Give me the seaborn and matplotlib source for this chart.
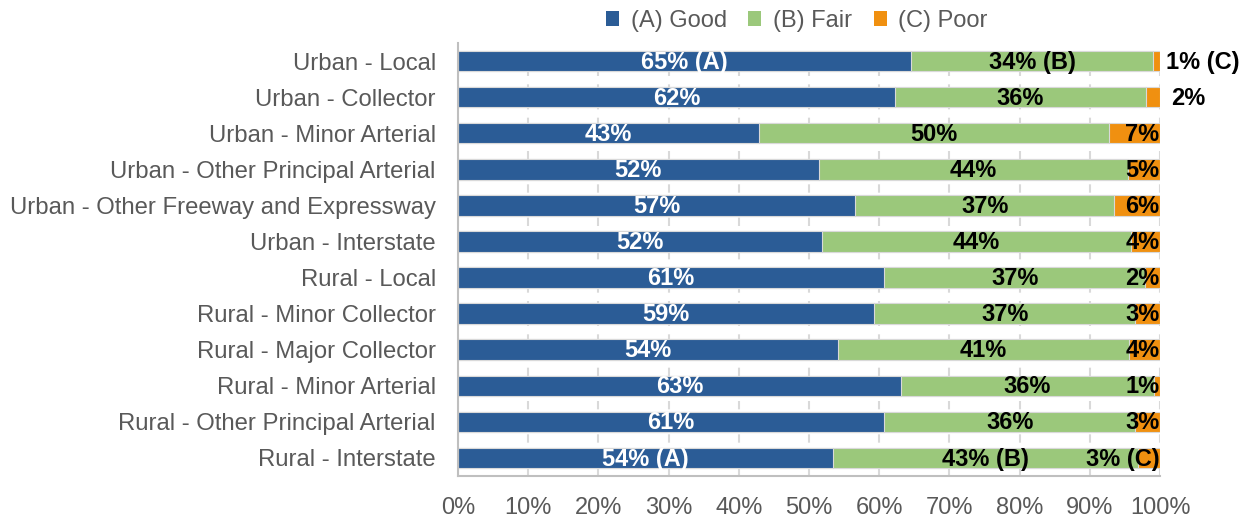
import numpy as np
import pandas as pd
import matplotlib
matplotlib.use("Agg")
import matplotlib.pyplot as plt
from matplotlib.patches import Patch
import seaborn as sns

categories = ["Urban - Local", "Urban - Collector", "Urban - Minor Arterial",
              "Urban - Other Principal Arterial", "Urban - Other Freeway and Expressway",
              "Urban - Interstate", "Rural - Local", "Rural - Minor Collector",
              "Rural - Major Collector", "Rural - Minor Arterial",
              "Rural - Other Principal Arterial", "Rural - Interstate"]
good = [64.6, 62.2, 42.9, 51.4, 56.6, 51.9, 60.7, 59.3, 54.1, 63.1, 60.7, 53.4]
fair = [34.4, 35.8, 49.8, 44.1, 36.9, 43.9, 37.2, 37.2, 41.5, 36.0, 35.8, 43.5]
poor = [1.0, 2.0, 7.3, 4.5, 6.5, 4.2, 2.1, 3.5, 4.4, 0.9, 3.5, 3.1]
good_lbl = [65, 62, 43, 52, 57, 52, 61, 59, 54, 63, 61, 54]
fair_lbl = [34, 36, 50, 44, 37, 44, 37, 37, 41, 36, 36, 43]
poor_lbl = [1, 2, 7, 5, 6, 4, 2, 3, 4, 1, 3, 3]
series_names = ["(A) Good", "(B) Fair", "(C) Poor"]
xticks = [0, 10, 20, 30, 40, 50, 60, 70, 80, 90, 100]

C_GOOD, C_FAIR, C_POOR = "#2B5C96", "#9BC87B", "#F09010"
GRAY = "#595959"

sns.set_style("white")
plt.rcParams["font.family"] = ["Liberation Sans", "DejaVu Sans"]

df = pd.DataFrame({"cat": categories, "good": good, "fair": fair, "poor": poor})
df["c2"] = df["good"] + df["fair"]
df["c3"] = df["c2"] + df["poor"]

fig = plt.figure(figsize=(12.43, 5.19), dpi=100)
ax = fig.add_axes([458 / 1243, 43 / 519, (1160 - 458) / 1243, (476 - 43) / 519])

kw = dict(orient="h", width=0.57, edgecolor="#D9D9D9", linewidth=0.8, ax=ax)
sns.barplot(data=df, x="c3", y="cat", color=C_POOR, saturation=1, **kw)
sns.barplot(data=df, x="c2", y="cat", color=C_FAIR, saturation=1, **kw)
sns.barplot(data=df, x="good", y="cat", color=C_GOOD, saturation=1, **kw)

n = len(categories)
last = n - 1
fs = 17
for i in range(n):
    g, f, p = good[i], fair[i], poor[i]
    sa = " (A)" if i in (0, last) else ""
    sb = " (B)" if i in (0, last) else ""
    sc = " (C)" if i in (0, last) else ""
    ax.text(g / 2, i + 0.03, f"{good_lbl[i]}%{sa}", ha="center", va="center",
            color="white", fontsize=fs, fontweight="bold")
    ax.text(g + f / 2, i + 0.03, f"{fair_lbl[i]}%{sb}", ha="center", va="center",
            color="black", fontsize=fs, fontweight="bold")
    if i in (0, 1):
        xo = 100.8 if i == 0 else 101.6
        ax.text(xo, i + 0.03, f"{poor_lbl[i]}%{sc}", ha="left", va="center",
                color="black", fontsize=fs, fontweight="bold", clip_on=False)
    else:
        ax.text(99.9, i + 0.03, f"{poor_lbl[i]}%{sc}", ha="right", va="center",
                color="black", fontsize=fs, fontweight="bold")

ax.set_xlim(0, 100)
ax.set_ylim(n - 0.5, -0.5)
ax.set_xticks(xticks)
ax.set_xticklabels([f"{t}%" for t in xticks])
ax.set_xlabel("")
ax.set_ylabel("")
ax.set_yticks(range(n))
ax.set_yticklabels(categories)
ax.set_yticks(np.arange(-0.5, n, 1.0), minor=True)
ax.tick_params(axis="y", which="major", length=0, pad=16, labelsize=17.2, labelcolor=GRAY)
ax.tick_params(axis="y", which="minor", length=6, width=1.5, color="#BFBFBF", direction="out")
ax.tick_params(axis="x", which="major", length=6, width=1.5, color="#BFBFBF",
               direction="out", labelsize=17, labelcolor=GRAY, pad=9)
ax.xaxis.grid(True, linestyle=(0, (4, 4)), color="#D9D9D9", linewidth=1.5)
ax.yaxis.grid(False)
ax.set_axisbelow(True)
for s in ("top", "right"):
    ax.spines[s].set_visible(False)
for s in ("left", "bottom"):
    ax.spines[s].set_color("#BFBFBF")
    ax.spines[s].set_linewidth(1.5)

handles = [Patch(facecolor=c, edgecolor="none") for c in (C_GOOD, C_FAIR, C_POOR)]
fig.legend(handles, series_names, loc="upper center", bbox_to_anchor=(797 / 1243, 1.022),
           ncol=3, frameon=False, fontsize=17, labelcolor=GRAY,
           handlelength=0.55, handleheight=0.55, handletextpad=0.5, columnspacing=0.9)

fig.savefig("out.png", dpi=100)
